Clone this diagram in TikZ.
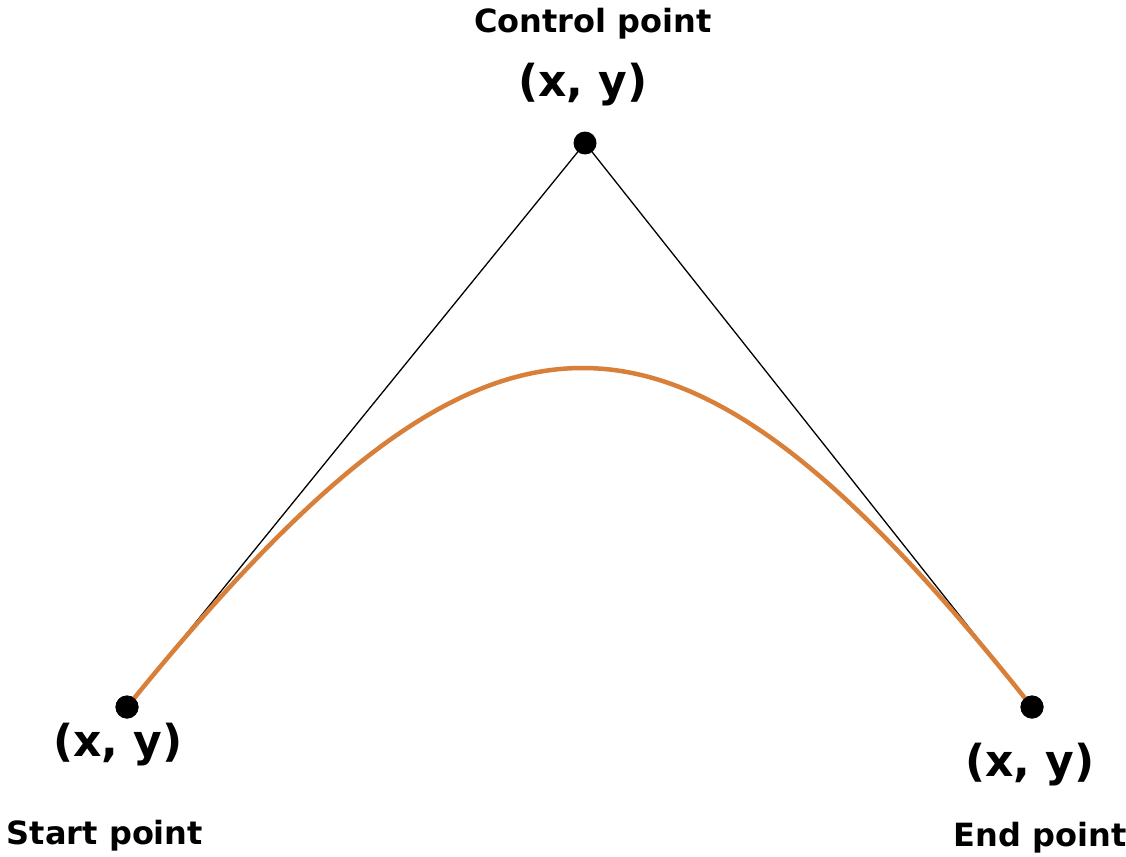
\documentclass[tikz,border=0pt]{standalone}
\usepackage{fontspec}
\setmainfont{DejaVu Sans}
\definecolor{curveorange}{RGB}{216,128,58}
\begin{document}
\begin{tikzpicture}[x=1pt,y=-1pt,
  dot/.style={circle,fill=black,inner sep=0pt,minimum size=23pt},
  lbl/.style={font=\bfseries\fontsize{32}{38}\selectfont,inner sep=0pt},
  coord/.style={font=\bfseries\fontsize{44}{52}\selectfont,inner sep=0pt},
  guide/.style={black,line width=1.3pt},
  bez/.style={curveorange,line width=4.5pt}]
\useasboundingbox (0,0) rectangle (1126,856);
\fill[white] (0,0) rectangle (1126,856);
\node[dot] (C) at (585,143) {};
\node[dot] (S) at (127,707) {};
\node[dot] (E) at (1032,707) {};
\draw[guide] (S.center) -- (C.center) -- (E.center);
\coordinate (c1) at (493,255);
\coordinate (c2) at (674,255);
\draw[bez] (S.center) .. controls (c1) and (c2) .. (E.center);
\node[dot] at (S) {};
\node[dot] at (E) {};
\node[lbl] (ctl) at (593,24) {Control point};
\node[coord] (cxy) at (583,85) {(x, y)};
\node[coord] (sxy) at (118,745) {(x, y)};
\node[lbl] (stl) at (105,836) {Start point};
\node[coord] (exy) at (1030,765) {(x, y)};
\node[lbl] (etl) at (1040,838) {End point};
\end{tikzpicture}
\end{document}
